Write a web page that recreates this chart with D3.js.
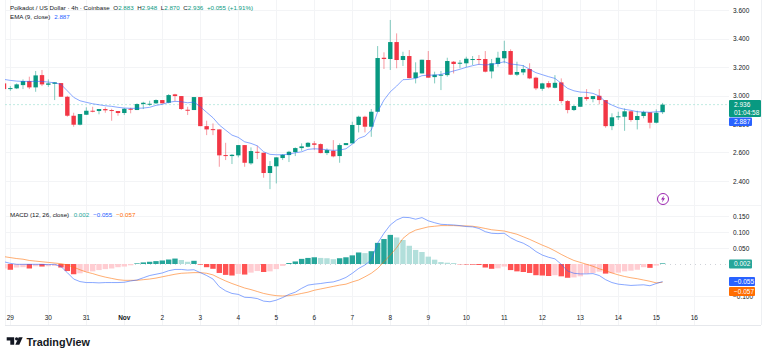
<!DOCTYPE html>
<html><head><meta charset="utf-8">
<script src="https://cdn.jsdelivr.net/npm/d3@7/dist/d3.min.js"></script>
<style>html,body{margin:0;padding:0;background:#fff;overflow:hidden}svg{display:block}text{font-family:"Liberation Sans",Arial,sans-serif}</style>
</head><body><svg id="c" width="768" height="357"></svg>
<script>
const open=[3.085,3.047,3.050,3.073,3.101,3.057,3.143,3.075,3.082,3.087,2.991,2.858,2.795,2.865,2.893,2.891,2.905,2.898,2.891,2.877,2.907,2.898,2.940,2.940,2.945,2.968,2.949,3.008,2.996,2.900,2.898,2.989,2.785,2.764,2.762,2.582,2.575,2.580,2.652,2.524,2.605,2.598,2.456,2.503,2.561,2.582,2.603,2.631,2.640,2.664,2.659,2.596,2.612,2.575,2.652,2.664,2.793,2.851,2.781,2.886,3.265,3.256,3.375,3.249,3.277,3.122,3.155,3.249,3.129,3.141,3.143,3.237,3.223,3.226,3.254,3.256,3.256,3.169,3.221,3.261,3.312,3.146,3.162,3.186,3.125,3.047,3.087,3.054,3.092,2.961,2.898,2.921,2.989,2.975,2.998,2.968,2.785,2.847,2.851,2.889,2.828,2.856,2.882,2.809,2.883];
const high=[3.085,3.066,3.085,3.113,3.132,3.172,3.179,3.113,3.094,3.087,2.998,2.879,2.870,2.917,2.921,2.905,2.917,2.907,2.891,2.912,2.914,2.945,2.956,2.963,2.973,2.968,3.010,3.012,2.996,2.921,2.989,2.989,2.823,2.804,2.762,2.668,2.589,2.652,2.652,2.636,2.647,2.598,2.540,2.566,2.589,2.612,2.636,2.664,2.673,2.680,2.664,2.629,2.687,2.664,2.666,2.816,2.858,2.858,2.905,3.347,3.303,3.530,3.436,3.307,3.319,3.233,3.251,3.312,3.167,3.172,3.265,3.242,3.249,3.272,3.277,3.284,3.312,3.256,3.307,3.384,3.324,3.237,3.214,3.226,3.132,3.089,3.101,3.143,3.120,2.968,2.933,2.989,3.045,2.996,3.045,2.968,2.875,2.886,2.910,2.893,2.893,2.893,2.882,2.903,2.948];
const low=[3.045,3.033,3.045,3.045,3.045,3.026,3.066,3.061,2.968,2.991,2.851,2.781,2.790,2.863,2.882,2.868,2.879,2.823,2.858,2.863,2.875,2.898,2.905,2.928,2.940,2.945,2.945,2.959,2.898,2.863,2.898,2.785,2.722,2.722,2.500,2.547,2.519,2.566,2.500,2.514,2.554,2.423,2.343,2.383,2.547,2.533,2.575,2.612,2.636,2.617,2.594,2.582,2.566,2.528,2.652,2.664,2.741,2.741,2.710,2.886,3.186,3.179,3.191,3.207,3.120,3.085,3.155,3.125,3.085,3.038,3.132,3.155,3.191,3.198,3.214,3.214,3.162,3.120,3.202,3.226,3.143,3.136,3.143,3.115,3.038,3.033,3.050,3.050,2.945,2.875,2.891,2.921,2.963,2.952,2.938,2.774,2.757,2.828,2.752,2.816,2.762,2.840,2.769,2.804,2.870];
const close=[3.045,3.052,3.078,3.101,3.057,3.141,3.078,3.085,3.092,2.991,2.858,2.795,2.870,2.893,2.891,2.905,2.896,2.891,2.877,2.907,2.900,2.940,2.949,2.942,2.968,2.945,3.003,2.996,2.905,2.898,2.989,2.785,2.762,2.760,2.580,2.575,2.584,2.652,2.528,2.610,2.598,2.456,2.505,2.566,2.584,2.605,2.631,2.643,2.668,2.654,2.596,2.617,2.573,2.652,2.666,2.793,2.851,2.781,2.886,3.263,3.256,3.375,3.249,3.277,3.122,3.162,3.251,3.125,3.146,3.146,3.242,3.221,3.230,3.258,3.256,3.249,3.167,3.226,3.265,3.312,3.146,3.165,3.186,3.120,3.050,3.085,3.057,3.089,2.961,2.898,2.926,2.989,2.975,2.996,2.968,2.785,2.847,2.854,2.889,2.828,2.856,2.884,2.809,2.879,2.936];
const ema=[3.113,3.106,3.101,3.099,3.099,3.099,3.099,3.094,3.089,3.078,3.033,2.987,2.963,2.952,2.942,2.935,2.928,2.924,2.917,2.912,2.910,2.910,2.912,2.917,2.931,2.938,2.952,2.959,2.956,2.949,2.954,2.921,2.882,2.844,2.793,2.757,2.722,2.706,2.675,2.664,2.647,2.605,2.587,2.584,2.584,2.589,2.598,2.605,2.622,2.626,2.624,2.619,2.615,2.617,2.626,2.659,2.699,2.715,2.757,2.886,2.968,3.026,3.066,3.111,3.113,3.120,3.139,3.143,3.143,3.148,3.160,3.172,3.184,3.198,3.209,3.219,3.214,3.219,3.226,3.237,3.221,3.216,3.209,3.184,3.160,3.146,3.132,3.120,3.085,3.050,3.033,3.024,3.022,3.015,2.996,2.956,2.933,2.914,2.903,2.896,2.886,2.884,2.882,2.886,2.887];
const hist=[-.014,-.018,-.011,-.010,-.014,-.007,-.008,-.007,-.006,-.011,-.022,-.032,-.029,-.024,-.023,-.019,-.016,-.014,-.010,-.008,-.004,.002,.005,.007,.009,.011,.014,.017,.0125,.007,.010,-.002,-.010,-.015,-.028,-.034,-.036,-.031,-.033,-.027,-.022,-.025,-.023,-.016,-.006,.003,.008,.016,.019,.021,.019,.018,.015,.018,.021,.027,.036,.034,.040,.066,.078,.091,.083,.075,.057,.044,.0375,.023,.0135,.006,.004,.003,-.001,-.0015,-.002,-.003,-.011,-.015,-.0135,-.008,-.019,-.023,-.025,-.028,-.035,-.036,-.0375,-.035,-.0385,-.043,-.042,-.0385,-.030,-.028,-.024,-.030,-.029,-.027,-.023,-.021,-.018,-.010,-.012,-.005,.002];
const macd=[.007,.002,-.001,-.001,-.001,-.001,-.001,-.002,-.001,-.008,-.027,-.047,-.055,-.058,-.058,-.059,-.058,-.058,-.058,-.057,-.053,-.050,-.043,-.036,-.032,-.028,-.021,-.017,-.017,-.019,-.018,-.027,-.036,-.047,-.071,-.084,-.092,-.095,-.104,-.105,-.108,-.116,-.118,-.113,-.105,-.095,-.088,-.076,-.066,-.063,-.061,-.058,-.056,-.050,-.042,-.029,-.014,-.003,.0125,.065,.096,.122,.1375,.146,.145,.140,.145,.135,.129,.124,.123,.122,.120,.117,.116,.111,.101,.096,.095,.096,.082,.072,.065,.054,.039,.028,.021,.016,-.001,-.022,-.029,-.031,-.031,-.030,-.036,-.049,-.058,-.063,-.065,-.067,-.066,-.065,-.068,-.061,-.055];
const signal=[.023,.020,.017,.015,.011,.009,.007,.005,.003,.001,-.003,-.010,-.018,-.025,-.030,-.036,-.041,-.045,-.049,-.051,-.051,-.051,-.049,-.047,-.044,-.040,-.036,-.032,-.029,-.028,-.027,-.027,-.029,-.034,-.044,-.053,-.061,-.068,-.075,-.080,-.086,-.092,-.096,-.099,-.100,-.099,-.096,-.092,-.088,-.082,-.078,-.074,-.070,-.066,-.063,-.056,-.050,-.040,-.029,-.014,.007,.028,.051,.080,.096,.106,.111,.116,.118,.120,.120,.120,.119,.119,.118,.115,.111,.107,.105,.103,.098,.093,.085,.077,.068,.059,.051,.041,.030,.020,.011,.005,-.001,-.007,-.015,-.021,-.028,-.034,-.039,-.043,-.046,-.050,-.054,-.059,-.057];
const priceTicks=[3.6,3.4,3.2,3.0,2.8,2.6,2.4];
const macdTicks=[0.15,0.1,0.05,0,-0.1];
const dayLabels=["29","30","31","Nov","2","3","4","5","6","7","8","9","10","11","12","13","14","15","16"];
const headerParts=[["Polkadot / US Dollar · 4h · Coinbase","#131722"],["O","#131722"],["2.883","#089981"],["H","#131722"],["2.948","#089981"],["L","#131722"],["2.870","#089981"],["C","#131722"],["2.936","#089981"],["+0.055 (+1.91%)","#089981"]];
const lastPrice=2.936,lastEma=2.887,lastHist=0.002,lastMacd=-0.055,lastSignal=-0.057;

const GREEN="#089981",RED="#F23645",BLUE="#2962FF",ORANGE="#FF6D00";
const svg=d3.select("#c");
const L=5,R=729;
const x=d3.scaleLinear().domain([0,104]).range([4,662.6]);
const y=d3.scaleLinear().domain([3.6,2.4]).range([10,181]);
const ym=d3.scaleLinear().domain([0.15,-0.1]).range([216,296]);
const f3=d3.format(".3f");
const minus=s=>s.replace("-","−");
const defs=svg.append("defs");
defs.append("clipPath").attr("id","p").append("rect").attr("x",L).attr("y",0).attr("width",R-L).attr("height",325);

const grid=svg.append("g").attr("stroke","#f3f4f6").attr("stroke-width",1);
dayLabels.forEach((d,k)=>{const X=Math.round(x(1+6*k))+.5;grid.append("line").attr("x1",X).attr("x2",X).attr("y1",0).attr("y2",325);});
grid.append("line").attr("x1",L+.5).attr("x2",L+.5).attr("y1",0).attr("y2",325);
priceTicks.forEach(t=>{const Y=Math.round(y(t))+.5;grid.append("line").attr("x1",L).attr("x2",R).attr("y1",Y).attr("y2",Y);});
macdTicks.filter(t=>t!==0).forEach(t=>{const Y=Math.round(ym(t))+.5;grid.append("line").attr("x1",L).attr("x2",R).attr("y1",Y).attr("y2",Y);});
grid.append("line").attr("x1",L).attr("x2",761).attr("y1",205.5).attr("y2",205.5).attr("stroke","#f3f4f6");
grid.append("line").attr("x1",L).attr("x2",761).attr("y1",325.5).attr("y2",325.5).attr("stroke","#e6e8ec");
grid.append("line").attr("x1",761.5).attr("x2",761.5).attr("y1",0).attr("y2",325).attr("stroke","#eef0f3");

const plot=svg.append("g").attr("clip-path","url(#p)");
plot.append("line").attr("x1",L).attr("x2",R).attr("y1",y(lastPrice)).attr("y2",y(lastPrice)).attr("stroke","#9adfd2").attr("stroke-width",1).attr("stroke-dasharray","2 2").attr("opacity",.6);
plot.append("line").attr("x1",L).attr("x2",R).attr("y1",264.5).attr("y2",264.5).attr("stroke","#cfd2d8").attr("stroke-width",1).attr("stroke-dasharray","1 4");

const idx=d3.range(open.length);
const col=i=>close[i]>=open[i]?GREEN:RED;
plot.append("g").selectAll("line").data(idx).join("line")
 .attr("x1",i=>x(i)).attr("x2",i=>x(i)).attr("y1",i=>y(high[i])).attr("y2",i=>y(low[i]))
 .attr("stroke",col).attr("stroke-opacity",.5).attr("stroke-width",1);
plot.append("g").selectAll("rect").data(idx).join("rect")
 .attr("x",i=>x(i)-2.2).attr("width",4.4)
 .attr("y",i=>y(Math.max(open[i],close[i])))
 .attr("height",i=>Math.max(1,Math.abs(y(open[i])-y(close[i]))))
 .attr("fill",col);
const line=(sc,arr)=>d3.line().x((d,i)=>x(i)).y(d=>sc(d))(arr);
plot.append("path").attr("d",line(y,ema)).attr("fill","none").attr("stroke",BLUE).attr("stroke-width",.9).attr("stroke-opacity",.62);

const hcol=i=>{const v=hist[i],p=i?hist[i-1]:v;return v>=0?(v>=p?"#26A69A":"#B2DFDB"):(v<p?"#FF5252":"#FFCDD2");};
plot.append("g").selectAll("rect").data(idx).join("rect")
 .attr("x",i=>x(i)-2.7).attr("width",5.4)
 .attr("y",i=>Math.min(ym(0),ym(hist[i])))
 .attr("height",i=>Math.abs(ym(hist[i])-ym(0)))
 .attr("fill",i=>hcol(i));
plot.append("path").attr("d",line(ym,signal)).attr("fill","none").attr("stroke",ORANGE).attr("stroke-width",.9).attr("stroke-opacity",.62);
plot.append("path").attr("d",line(ym,macd)).attr("fill","none").attr("stroke",BLUE).attr("stroke-width",.9).attr("stroke-opacity",.62);

// axes
const fs=6.5, hs=6.2;
const axR=d3.axisRight(y).tickValues(priceTicks).tickFormat(f3).tickSize(0).tickPadding(0);
const ga=svg.append("g").attr("transform","translate(733,0)").call(axR);
ga.select(".domain").remove();
ga.selectAll("text").attr("font-size",fs).attr("fill","#131722").attr("font-family","Liberation Sans");
const axM=d3.axisRight(ym).tickValues(macdTicks).tickFormat(d=>minus(f3(d))).tickSize(0).tickPadding(0);
const gm=svg.append("g").attr("transform","translate(733,0)").call(axM);
gm.select(".domain").remove();
gm.selectAll("text").attr("font-size",fs).attr("fill","#131722");
svg.append("g").selectAll("text").data(dayLabels).join("text")
 .attr("x",(d,k)=>x(1+6*k)).attr("y",320.3).attr("text-anchor","middle").attr("font-size",fs)
 .attr("font-weight",d=>d==="Nov"?700:400).attr("fill","#131722").text(d=>d);

// tags
function tag(yTop,w,h,bg,lines){
 svg.append("rect").attr("x",729).attr("y",yTop).attr("width",w).attr("height",h).attr("rx",1).attr("fill",bg);
 lines.forEach(([t,yy])=>svg.append("text").attr("x",734).attr("y",yy).attr("font-size",fs).attr("fill","#fff").text(t));
}
tag(100,32,17,GREEN,[[f3(lastPrice),106.8],["01:04:58",114.8]]);
tag(117.5,23,8.5,BLUE,[[f3(lastEma),124]]);
tag(259.5,23,9,"#26A69A",[[f3(lastHist),266.3]]);
tag(277,26,9,BLUE,[[minus(f3(lastMacd)),283.8]]);
tag(287,26,9,ORANGE,[[minus(f3(lastSignal)),293.8]]);

// header
const hdr=svg.append("text").attr("x",10).attr("y",10).attr("font-size",hs);
headerParts.forEach(([t,c],k)=>{hdr.append("tspan").attr("fill",c).attr("dx",(k>0&&k%2===1)||k===9?3.6:0).text(t);});
const h2=svg.append("text").attr("x",10).attr("y",19).attr("font-size",hs);
h2.append("tspan").attr("fill","#131722").text("EMA (9, close)");
h2.append("tspan").attr("fill",BLUE).attr("dx",4).text(f3(lastEma));
const h3=svg.append("text").attr("x",10).attr("y",217.2).attr("font-size",hs);
h3.append("tspan").attr("fill","#131722").text("MACD (12, 26, close)");
h3.append("tspan").attr("fill","#26A69A").attr("dx",4.5).text(f3(lastHist));
h3.append("tspan").attr("fill",BLUE).attr("dx",4).text(minus(f3(lastMacd)));
h3.append("tspan").attr("fill",ORANGE).attr("dx",4).text(minus(f3(lastSignal)));

// lightning badge
const b=svg.append("g").attr("transform","translate(663,199)");
b.append("circle").attr("r",5.5).attr("fill","#fff").attr("stroke","#9c27b0").attr("stroke-width",1);
b.append("path").attr("d","M1,-3.5 L-2,0.6 L-0.2,0.6 L-1,3.5 L2,-0.8 L0.2,-0.8 Z").attr("fill","#9c27b0");

// logo
const lg=svg.append("g").attr("transform","translate(6.7,337.2)").attr("fill","#131722");
lg.append("path").attr("d","M0,0H7.5V7.6H3.6V3.2H0Z");
lg.append("circle").attr("cx",9.9).attr("cy",1.6).attr("r",1.6);
lg.append("path").attr("d","M12,0H16L12.6,7.6H8.6Z");
svg.append("text").attr("x",26.5).attr("y",345.5).attr("font-family","Inter").attr("font-size",10.8).attr("font-weight",600).attr("fill","#131722").text("TradingView");
</script></body></html>
